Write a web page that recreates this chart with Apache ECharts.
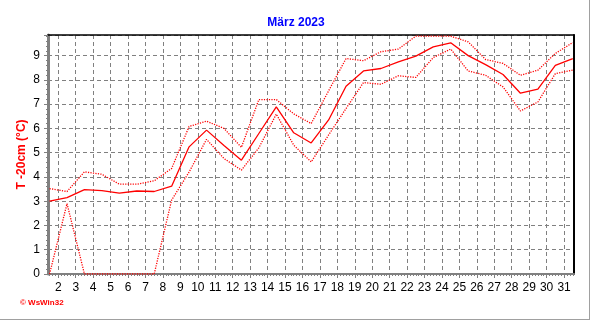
<!DOCTYPE html>
<html>
<head>
<meta charset="utf-8">
<script src="https://cdn.jsdelivr.net/npm/echarts@6/dist/echarts.min.js"></script>
<style>
html,body{margin:0;padding:0;background:#fff;}
#c{width:592px;height:321px;}
</style>
</head>
<body>
<div id="c"></div>
<script>
// Daily values, plotted at the middle of each day (day + 0.5)
const days = [1,2,3,4,5,6,7,8,9,10,11,12,13,14,15,16,17,18,19,20,21,22,23,24,25,26,27,28,29,30,31];
const meanT = [3.0,3.15,3.48,3.44,3.33,3.42,3.40,3.62,5.24,5.93,5.30,4.69,5.79,6.89,5.82,5.40,6.35,7.74,8.37,8.47,8.74,8.98,9.36,9.53,9.0,8.63,8.22,7.45,7.62,8.6,8.88];
const maxT  = [3.52,3.40,4.21,4.11,3.70,3.70,3.84,4.35,6.08,6.30,6.0,5.22,7.19,7.19,6.6,6.2,7.55,8.88,8.79,9.16,9.27,9.8,9.8,9.8,9.57,8.84,8.68,8.19,8.4,9.09,9.54];
const minT  = [0,2.9,0,0,0,0,0,3.05,4.2,5.55,4.76,4.28,5.2,6.59,5.31,4.62,5.73,6.82,7.89,7.82,8.17,8.1,8.92,9.27,8.37,8.19,7.71,6.72,7.09,8.26,8.4];
const xTickLabels = [2,3,4,5,6,7,8,9,10,11,12,13,14,15,16,17,18,19,20,21,22,23,24,25,26,27,28,29,30,31];
const titleText = 'März 2023';
const yName = 'T -20cm (°C)';

const pts = arr => arr.map((v, i) => [days[i] + 0.5, v]);
const minorX = [];
for (let d = 1.5; d <= 31.55; d += 1/6) minorX.push(+d.toFixed(4));

const X_MIN = 1.41, X_MAX = 31.57;
const grey = '#808080';
const font = '"Liberation Sans", Arial, sans-serif';

const chart = echarts.init(document.getElementById('c'), null, {renderer: 'canvas'});
chart.setOption({
  animation: false,
  backgroundColor: '#ffffff',
  title: {
    text: titleText, left: 'center', top: 12,
    textStyle: {color: '#0000ff', fontWeight: 'bold', fontSize: 12, fontFamily: font}
  },
  grid: {left: 48, top: 35, width: 526, height: 239, containLabel: false},
  xAxis: [
    {
      type: 'value', min: X_MIN, max: X_MAX, position: 'bottom',
      axisLine: {show: true, onZero: false, lineStyle: {color: grey, width: 2}},
      axisTick: {show: true, customValues: xTickLabels, length: 4, lineStyle: {color: grey}},
      axisLabel: {customValues: xTickLabels, color: '#000', fontSize: 12, fontFamily: font, margin: 8},
      splitLine: {show: true, lineStyle: {color: grey, type: [4, 3], width: 1}}
    },
    {
      type: 'value', min: X_MIN, max: X_MAX, position: 'bottom', offset: 0,
      axisLine: {show: false, onZero: false},
      axisTick: {show: true, customValues: minorX, length: 2, lineStyle: {color: grey}},
      axisLabel: {show: false},
      splitLine: {show: false}
    },
    {
      type: 'value', min: X_MIN, max: X_MAX, position: 'top',
      axisLine: {show: true, onZero: false, lineStyle: {color: '#000', width: 1.5}},
      axisTick: {show: false}, axisLabel: {show: false}, splitLine: {show: false}
    }
  ],
  yAxis: [
    {
      type: 'value', min: 0, max: 9.85, interval: 1, position: 'left',
      name: yName, nameLocation: 'middle', nameRotate: 90, nameGap: 20, nameMoveOverlap: false,
      nameTextStyle: {color: '#ff0000', fontWeight: 'bold', fontSize: 12, fontFamily: font},
      axisLine: {show: true, onZero: false, lineStyle: {color: grey, width: 3}},
      axisTick: {show: true, length: 4, lineStyle: {color: grey}},
      minorTick: {show: true, splitNumber: 5, length: 2, lineStyle: {color: grey}},
      axisLabel: {color: '#000', fontSize: 12, fontFamily: font, margin: 8,
                  formatter: v => (Math.abs(v - Math.round(v)) < 1e-6 ? String(Math.round(v)) : '')},
      splitLine: {show: true, lineStyle: {color: grey, type: [4, 3], width: 1}}
    },
    {
      type: 'value', min: 0, max: 9.85, position: 'right',
      axisLine: {show: true, onZero: false, lineStyle: {color: '#000', width: 2}},
      axisTick: {show: false}, axisLabel: {show: false}, splitLine: {show: false}
    }
  ],
  series: [
    {type: 'line', name: 'max', data: pts(maxT), showSymbol: false, symbol: 'none',
     lineStyle: {color: '#ff0000', width: 1.3, type: [1.2, 1.3]}, z: 3},
    {type: 'line', name: 'min', data: pts(minT), showSymbol: false, symbol: 'none',
     lineStyle: {color: '#ff0000', width: 1.3, type: [1.2, 1.3]}, z: 3},
    {type: 'line', name: 'mean', data: pts(meanT), showSymbol: false, symbol: 'none',
     lineStyle: {color: '#ff0000', width: 1.3}, z: 4}
  ],
  graphic: [
    {type: 'text', left: 20, top: 299,
     style: {text: '© WsWin32', fill: '#ff0000', font: 'bold 8px ' + font}},
    {type: 'line', shape: {x1: 589.5, y1: 0, x2: 589.5, y2: 320}, style: {stroke: '#a0a0a0', lineWidth: 1}},
    {type: 'line', shape: {x1: 0, y1: 319.5, x2: 590, y2: 319.5}, style: {stroke: '#a0a0a0', lineWidth: 1}}
  ]
});
</script>
</body>
</html>
